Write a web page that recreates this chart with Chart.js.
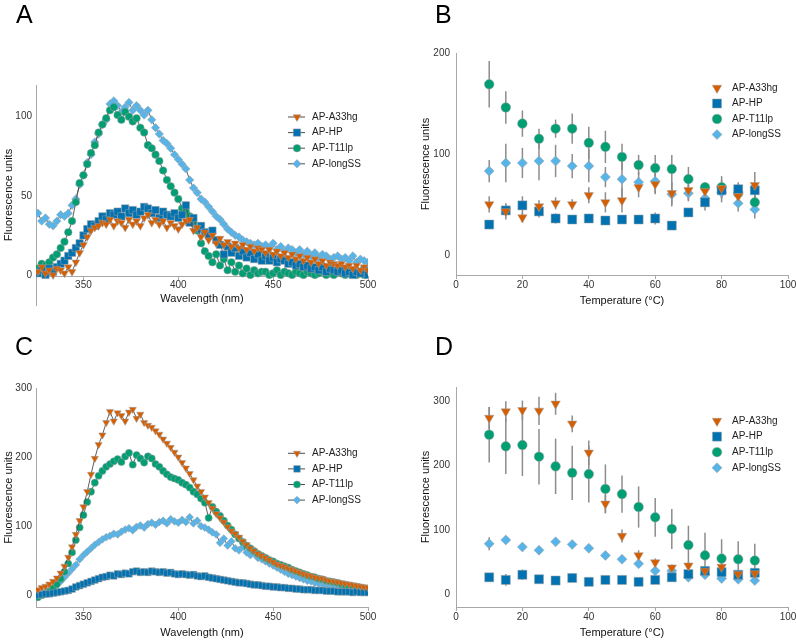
<!DOCTYPE html>
<html>
<head>
<meta charset="utf-8">
<script src="https://cdn.jsdelivr.net/npm/chart.js@4.4.1/dist/chart.umd.min.js"></script>
<style>
  html, body { margin: 0; padding: 0; background: #fff; overflow: hidden; }
  #fig { position: relative; width: 796px; height: 640px; overflow: hidden; }
  canvas { position: absolute; }
  .tag { position: absolute; font: 25px/25px "Liberation Sans", Arial, sans-serif; color: #000; }
</style>
</head>
<body>
<div id="fig">
  <canvas id="cA" width="398" height="320" style="left:0;top:0"></canvas>
  <canvas id="cB" width="410" height="320" style="left:398px;top:0"></canvas>
  <canvas id="cC" width="398" height="320" style="left:0;top:320px"></canvas>
  <canvas id="cD" width="410" height="320" style="left:398px;top:320px"></canvas>
  <div class="tag" style="left:16px;top:2px">A</div>
  <div class="tag" style="left:435px;top:2px">B</div>
  <div class="tag" style="left:15px;top:334px">C</div>
  <div class="tag" style="left:435px;top:334px">D</div>
</div>
<script>
// series, in legend order
const seriesNames = ["AP-A33hg", "AP-HP", "AP-T11lp", "AP-longSS"];

// emission spectra (panels A and C), x = wavelength in nm
const wavelength = [
  326, 328, 330, 332, 334, 336, 338, 340, 342, 344,
  346, 348, 350, 352, 354, 356, 358, 360, 362, 364,
  366, 368, 370, 372, 374, 376, 378, 380, 382, 384,
  386, 388, 390, 392, 394, 396, 398, 400, 402, 404,
  406, 408, 410, 412, 414, 416, 418, 420, 422, 424,
  426, 428, 430, 432, 434, 436, 438, 440, 442, 444,
  446, 448, 450, 452, 454, 456, 458, 460, 462, 464,
  466, 468, 470, 472, 474, 476, 478, 480, 482, 484,
  486, 488, 490, 492, 494, 496, 498, 500
];

const specA_A33hg = [
  2, 5, 1, 3, 0, 4, 3, 1, 5, 2,
  8, 14, 19, 24, 28, 30, 31, 33, 32, 35,
  31, 34, 33, 30, 35, 32, 34, 31, 36, 38,
  33, 35, 32, 34, 30, 33, 31, 29, 32, 34,
  35, 28, 30, 24, 27, 22, 25, 20, 23, 19,
  21, 18, 20, 17, 19, 16, 18, 15, 17, 16,
  14, 16, 13, 15, 12, 14, 11, 13, 10, 12,
  9, 11, 8, 10, 7, 9, 6, 8, 7, 6,
  7, 5, 6, 4, 6, 3, 5, 3
];
const specA_HP = [
  1, 3, 0, 4, 2, 5, 7, 9, 12, 14,
  17, 20, 25, 29, 32, 31, 34, 37, 35, 39,
  38, 40, 37, 42, 39, 41, 38, 40, 43, 42,
  39, 41, 36, 40, 38, 37, 39, 36, 38, 44,
  33, 36, 29, 31, 27, 25, 28, 22, 19, 13,
  18, 14, 17, 12, 15, 11, 14, 10, 13, 9,
  12, 9, 11, 8, 10, 9, 7, 8, 6, 7,
  5, 6, 4, 5, 3, 5, 2, 4, 3, 2,
  3, 1, 2, 0, 2, 1, 3, 0
];
const specA_T11lp = [
  4, 7, 6, 8, 11, 13, 17, 21, 27, 34,
  46, 58, 63, 70, 77, 82, 90, 95, 99, 104,
  106, 101, 98, 103, 100, 97, 99, 93, 90, 82,
  80, 76, 72, 66, 60, 56, 52, 48, 42, 40,
  37, 33, 28, 20, 15, 12, 8, 13, 6, 10,
  3, 8, 2, 6, 1, 4, 0, 3, 1, 2,
  2, 0, 1, 3, 0, 2, 1, 0, 2, 1,
  0, 2, 1, 0, 1, 2, 0, 1, 0, 2,
  1, 0, 2, 1, 0, 1, 0, 2
];
const specA_longSS = [
  39, 34, 36, 32, 31, 34, 38, 37, 39, 44,
  48, 57, 63, 71, 76, 84, 89, 95, 98, 108,
  110, 107, 103, 106, 109, 104, 107, 104, 101, 104,
  98, 93, 89, 85, 83, 80, 76, 73, 70, 67,
  60, 55, 52, 48, 46, 43, 40, 37, 35, 32,
  29, 27, 25, 24, 22, 21, 20, 19, 20, 18,
  19, 17, 20, 16, 18, 15, 17, 16, 14, 16,
  13, 15, 12, 14, 11, 13, 12, 10, 11, 12,
  10, 11, 9, 12, 8, 10, 9, 8
];

const specC_A33hg = [
  8, 11, 13, 16, 20, 25, 32, 42, 55, 70,
  88, 108, 128, 150, 175, 198, 218, 232, 250, 266,
  252, 264, 260, 252, 265, 269, 256, 262, 250, 246,
  243, 238, 233, 226, 220, 214, 207, 200, 192, 184,
  176, 167, 158, 150, 142, 134, 126, 118, 112, 106,
  99, 93, 89, 84, 78, 73, 68, 64, 60, 57,
  54, 51, 48, 45, 43, 41, 39, 37, 35, 33,
  31, 29, 28, 26, 25, 24, 22, 21, 20, 19,
  18, 17, 16, 15, 14, 13, 12, 11
];
const specC_HP = [
  0, 1, 2, 2, 3, 4, 5, 6, 7, 9,
  12, 14, 16, 18, 20, 22, 24, 26, 27, 29,
  28, 31, 30, 32, 31, 34, 35, 33, 34, 33,
  35, 34, 33, 34, 32, 33, 31, 30, 31, 30,
  29, 30, 28, 27, 28, 26, 25, 24, 23, 22,
  21, 20, 19, 18, 18, 17, 16, 15, 15, 14,
  13, 13, 12, 12, 11, 11, 10, 10, 9, 9,
  8, 8, 8, 7, 7, 7, 6, 6, 6, 5,
  5, 5, 5, 4, 5, 4, 4, 4
];
const specC_T11lp = [
  -3, 0, 2, 5, 10, 16, 24, 34, 46, 62,
  80, 98, 116, 135, 150, 163, 173, 180, 186, 190,
  194, 197, 193, 201, 206, 189, 203, 198, 192, 201,
  198, 190, 186, 180, 175, 171, 169, 167, 163, 160,
  156, 150, 146, 140, 134, 112, 128, 121, 115, 108,
  101, 95, 88, 82, 77, 72, 68, 64, 60, 57,
  54, 51, 49, 46, 44, 42, 40, 37, 35, 33,
  31, 29, 27, 26, 24, 23, 21, 20, 19, 18,
  16, 15, 14, 13, 12, 11, 10, 9
];
const specC_longSS = [
  2, 4, 6, 8, 11, 15, 20, 26, 32, 38,
  44, 52, 58, 63, 68, 73, 77, 81, 84, 86,
  89, 88, 92, 95, 97, 94, 99, 101, 98, 103,
  105, 102, 106, 108, 104, 110, 107, 105, 109, 106,
  113, 104, 108, 100, 98, 95, 91, 88, 76, 82,
  72, 78, 68, 65, 70, 62, 58, 60, 54, 52,
  49, 46, 43, 40, 37, 34, 31, 29, 27, 25,
  23, 21, 20, 18, 17, 16, 15, 14, 13, 12,
  11, 10, 9, 9, 8, 7, 7, 6
];

// temperature series (panels B and D), mean and error
const temperature = [10, 15, 20, 25, 30, 35, 40, 45, 50, 55, 60, 65, 70, 75, 80, 85, 90];

const tempB_A33hg = [50, 43, 37, 48, 51, 50, 59, 52, 54, 67, 70, 61, 64, 63, 66, 58, 69];
const errB_A33hg  = [8, 8, 5, 6, 6, 5, 8, 10, 12, 10, 10, 11, 10, 8, 8, 8, 13];
const tempB_HP    = [30, 44, 49, 43, 36, 35, 36, 34, 35, 35, 36, 29, 42, 52, 64, 65, 64];
const errB_HP     = [3, 6, 9, 6, 5, 3, 3, 3, 3, 3, 6, 4, 4, 8, 8, 7, 8];
const tempB_T11lp = [169, 146, 130, 115, 125, 125, 111, 107, 97, 89, 86, 85, 75, 67, 67, 61, 52];
const errB_T11lp  = [23, 16, 13, 10, 9, 15, 16, 16, 13, 10, 13, 14, 12, 5, 11, 8, 8];
const tempB_longSS = [83, 91, 91, 93, 93, 88, 88, 77, 75, 72, 73, 60, 61, 56, 62, 51, 45];
const errB_longSS  = [11, 19, 15, 19, 16, 12, 16, 10, 18, 10, 12, 12, 8, 6, 10, 8, 9];

const tempD_A33hg = [274, 284, 286, 285, 296, 265, 220, 141, 91, 61, 50, 42, 45, 37, 43, 32, 33];
const errD_A33hg  = [17, 16, 15, 22, 17, 13, 19, 14, 10, 8, 6, 5, 6, 5, 6, 5, 5];
const tempD_HP    = [27, 23, 31, 24, 22, 26, 20, 23, 23, 20, 23, 27, 32, 37, 35, 31, 34];
const errD_HP     = [4, 9, 8, 4, 3, 4, 3, 3, 3, 3, 4, 4, 5, 5, 5, 5, 5];
const tempD_T11lp = [248, 230, 232, 214, 199, 189, 187, 164, 156, 136, 120, 102, 77, 61, 56, 55, 53];
const errD_T11lp  = [43, 43, 48, 43, 43, 42, 44, 38, 29, 32, 30, 31, 30, 35, 30, 28, 26];
const tempD_longSS = [79, 85, 74, 69, 82, 78, 72, 61, 55, 48, 37, 37, 27, 31, 25, 24, 22];
const errD_longSS  = [10, 5, 4, 4, 5, 4, 4, 4, 4, 4, 4, 4, 4, 4, 4, 4, 4];

// axis ticks
const specTicksX = [350, 400, 450, 500];
const tempTicksX = [0, 20, 40, 60, 80, 100];
const ticksA = [0, 50, 100];
const ticksB = [0, 100, 200];
const ticksCD = [0, 100, 200, 300];

// styling
const fontFamily = '"Liberation Sans", Arial, Helvetica, sans-serif';
const seriesColors = ["#D55E00", "#0072B2", "#009E73", "#56B4E9"];
const markerStyles = ["triangle", "rect", "circle", "rectRot"];
const markerRotation = [180, 0, 0, 0];
const axisGray = "#a8a8a8";
const lineGray = "#4d4d4d";
const markerEdge = "rgba(160,160,160,0.85)";

Chart.defaults.font.family = fontFamily;
Chart.defaults.color = "#222";

// vertical error bars drawn under the markers
const errorBars = {
  id: "errorBars",
  beforeDatasetsDraw(chart) {
    const { ctx, scales: { x, y } } = chart;
    ctx.save();
    ctx.strokeStyle = "#8c8c8c";
    ctx.lineWidth = 1.5;
    chart.data.datasets.forEach(ds => {
      if (!ds.errors) return;
      ds.data.forEach((p, j) => {
        const px = x.getPixelForValue(p.x);
        ctx.beginPath();
        ctx.moveTo(px, y.getPixelForValue(p.y - ds.errors[j]));
        ctx.lineTo(px, y.getPixelForValue(p.y + ds.errors[j]));
        ctx.stroke();
      });
    });
    ctx.restore();
  }
};

// legend inside the plot, at a fixed spot
const panelLegend = {
  id: "panelLegend",
  afterDatasetsDraw(chart, args, opts) {
    const ctx = chart.ctx;
    ctx.save();
    chart.data.datasets.forEach((ds, i) => {
      const yy = opts.y + i * opts.dy;
      if (opts.withLine) {
        ctx.strokeStyle = lineGray;
        ctx.lineWidth = 1;
        ctx.beginPath();
        ctx.moveTo(opts.x - 9, yy);
        ctx.lineTo(opts.x + 8, yy);
        ctx.stroke();
      }
      ctx.fillStyle = ds.pointBackgroundColor;
      ctx.strokeStyle = ds.pointBorderColor;
      ctx.lineWidth = ds.pointBorderWidth;
      if (Chart.helpers && Chart.helpers.drawPoint) {
        Chart.helpers.drawPoint(ctx, {
          pointStyle: ds.pointStyle, radius: ds.pointRadius,
          rotation: ds.pointRotation, borderWidth: ds.pointBorderWidth
        }, opts.x, yy);
      } else {
        ctx.beginPath();
        ctx.arc(opts.x, yy, ds.pointRadius, 0, Math.PI * 2);
        ctx.fill();
      }
      ctx.fillStyle = "#222";
      ctx.font = "10px " + fontFamily;
      ctx.textAlign = "left";
      ctx.textBaseline = "middle";
      ctx.fillText(ds.label, opts.textX, yy);
    });
    ctx.restore();
  }
};

function spectrumSets(values, radii) {
  return seriesNames.map((name, i) => ({
    label: name,
    data: wavelength.map((w, k) => ({ x: w, y: values[i][k] })),
    showLine: true,
    borderColor: lineGray,
    borderWidth: 0.9,
    pointStyle: markerStyles[i],
    pointRotation: markerRotation[i],
    pointRadius: radii[i],
    pointBackgroundColor: seriesColors[i],
    pointBorderColor: markerEdge,
    pointBorderWidth: 0.6
  }));
}

function meltSets(values, errors, radii) {
  return seriesNames.map((name, i) => ({
    label: name,
    data: temperature.map((t, k) => ({ x: t, y: values[i][k] })),
    errors: errors[i],
    showLine: false,
    pointStyle: markerStyles[i],
    pointRotation: markerRotation[i],
    pointRadius: radii[i],
    pointBackgroundColor: seriesColors[i],
    pointBorderColor: markerEdge,
    pointBorderWidth: 0.6
  }));
}

function makePanel(id, p) {
  return new Chart(document.getElementById(id), {
    type: "scatter",
    data: { datasets: p.datasets },
    plugins: [errorBars, panelLegend],
    options: {
      responsive: false,
      animation: false,
      events: [],
      layout: { padding: p.padding },
      plugins: {
        legend: { display: false },
        tooltip: { enabled: false },
        panelLegend: p.legend
      },
      scales: {
        x: {
          type: "linear",
          position: p.xPosition,
          min: p.xMin, max: p.xMax,
          afterBuildTicks: s => { s.ticks = p.xTicks.map(v => ({ value: v })); },
          afterFit: s => { s.height = p.xHeight; },
          grid: { display: true, drawOnChartArea: false, drawTicks: true, tickLength: p.xTickLen, color: axisGray },
          border: { display: true, color: axisGray, width: 1 },
          ticks: { padding: p.xTickPad, color: "#333", font: { size: 10, lineHeight: 1 }, maxRotation: 0, autoSkip: false },
          title: { display: true, text: p.xTitle, color: "#111", font: { size: 11 }, padding: { top: 0, bottom: 0 } }
        },
        y: {
          type: "linear",
          position: "left",
          min: p.yMin, max: p.yMax,
          afterBuildTicks: s => { s.ticks = p.yTicks.map(v => ({ value: v })); },
          afterFit: s => { s.width = p.yWidth; },
          grid: { display: false, drawTicks: false },
          border: { display: true, color: axisGray, width: 1 },
          ticks: { padding: p.yTickPad, color: "#333", font: { size: 10 } },
          title: { display: true, text: "Fluorescence units", color: "#111", font: { size: 11 }, padding: { top: p.yTitlePad, bottom: 0 } }
        }
      }
    }
  });
}

makePanel("cA", {
  datasets: spectrumSets([specA_A33hg, specA_HP, specA_T11lp, specA_longSS], [4.5, 5.2, 3.8, 4.2]),
  padding: { left: 0, top: 85, right: 30, bottom: 15 },
  xMin: 325, xMax: 500, xTicks: specTicksX, xTitle: "Wavelength (nm)",
  xPosition: { y: -1.2 }, xHeight: 29, xTickLen: 3, xTickPad: 0,
  yMin: -19, yMax: 120, yTicks: ticksA, yWidth: 36, yTickPad: 4, yTitlePad: 2.4,
  legend: { x: 297, textX: 312, y: 117, dy: 15.6, withLine: true }
});

makePanel("cB", {
  datasets: meltSets([tempB_A33hg, tempB_HP, tempB_T11lp, tempB_longSS],
                     [errB_A33hg, errB_HP, errB_T11lp, errB_longSS], [5.4, 6.4, 4.8, 5]),
  padding: { left: 0, top: 53, right: 20, bottom: 12 },
  xMin: 0, xMax: 100, xTicks: tempTicksX, xTitle: "Temperature (°C)",
  xPosition: "bottom", xHeight: 33, xTickLen: 4, xTickPad: 1,
  yMin: -20, yMax: 200, yTicks: ticksB, yWidth: 58, yTickPad: 6, yTitlePad: 21,
  legend: { x: 319, textX: 334, y: 88, dy: 15.5, withLine: false }
});

makePanel("cC", {
  datasets: spectrumSets([specC_A33hg, specC_HP, specC_T11lp, specC_longSS], [4.2, 4.7, 3.6, 3.9]),
  padding: { left: 0, top: 68, right: 30, bottom: 0 },
  xMin: 325, xMax: 500, xTicks: specTicksX, xTitle: "Wavelength (nm)",
  xPosition: "bottom", xHeight: 33, xTickLen: 4, xTickPad: 1,
  yMin: -17, yMax: 300, yTicks: ticksCD, yWidth: 36, yTickPad: 4, yTitlePad: 2.4,
  legend: { x: 297, textX: 312, y: 133.3, dy: 15.6, withLine: true }
});

makePanel("cD", {
  datasets: meltSets([tempD_A33hg, tempD_HP, tempD_T11lp, tempD_longSS],
                     [errD_A33hg, errD_HP, errD_T11lp, errD_longSS], [5.4, 6.4, 4.8, 5]),
  padding: { left: 0, top: 67, right: 20, bottom: 0 },
  xMin: 0, xMax: 100, xTicks: tempTicksX, xTitle: "Temperature (°C)",
  xPosition: "bottom", xHeight: 33, xTickLen: 4, xTickPad: 1,
  yMin: -19, yMax: 322, yTicks: ticksCD, yWidth: 58, yTickPad: 6, yTitlePad: 21,
  legend: { x: 319, textX: 334, y: 101, dy: 15.6, withLine: false }
});
</script>
</body>
</html>
